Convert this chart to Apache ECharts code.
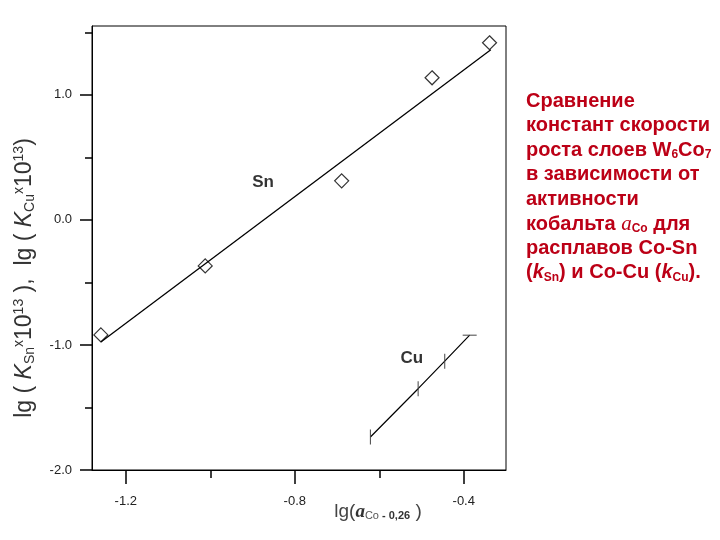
<!DOCTYPE html>
<html>
<head>
<meta charset="utf-8">
<script src="https://cdn.jsdelivr.net/npm/echarts@6/dist/echarts.min.js"></script>
<style>html,body{margin:0;padding:0;background:#fff}#c{width:720px;height:540px}</style>
</head>
<body>
<div id="c"></div>
<script>
// Sn measured points
const snX = [-1.259, -1.012, -0.689, -0.475, -0.339];
const snY = [-0.92, -0.368, 0.312, 1.136, 1.416];
// Sn fitted line endpoints
const snFitX = [-1.259, -0.336];
const snFitY = [-0.976, 1.36];
// Cu points (on fitted line)
const cuX = [-0.621, -0.508, -0.445, -0.386];
const cuY = [-1.736, -1.35, -1.13, -0.922];
// annotation labels
const annX = [-0.875, -0.523];
const annY = [0.304, -1.104];
const annText = ['Sn', 'Cu'];
// ticks
const xMajor = [-1.2, -0.8, -0.4];
const xMinor = [-1.0, -0.6];
const yMajor = [-2, -1, 0, 1];
const yMinor = [-1.5, -0.5, 0.5, 1.5];
const noteLines = [
  'Сравнение',
  'констант скорости',
  'роста слоев W{s|6}Co{s|7}',
  'в зависимости от',
  'активности',
  'кобальта {a|a}{s|Co} для',
  'расплавов Co-Sn',
  '({k|k}{s|Sn}) и Co-Cu ({k|k}{s|Cu}).'
];
const noteY = [103, 127.5, 152, 176.5, 201, 225.5, 250, 274.5];

const chart = echarts.init(document.getElementById('c'), null, {renderer: 'canvas'});
const font = 'Liberation Sans, Arial, sans-serif';
const axCol = '#000';
const xRange = {min: -1.28, max: -0.30};
const yRange = {min: -2, max: 1.55};

const red = '#bc0016';
const graphics = noteLines.map((t, i) => ({
  type: 'text', left: 526, top: noteY[i] - 12,
  style: {
    text: t, fill: red, font: 'bold 20px ' + font,
    rich: {
      s: {fontSize: 12, fontWeight: 'bold', fill: red, fontFamily: font, padding: [10, 0, 0, 0]},
      a: {fontSize: 21, fontStyle: 'italic', fontFamily: 'Liberation Serif, serif', fill: red},
      k: {fontSize: 20, fontStyle: 'italic', fontWeight: 'bold', fontFamily: font, fill: red}
    }
  }
}));
graphics.push({
  type: 'text', x: 25, y: 278, rotation: Math.PI / 2,
  style: {
    text: 'lg ( {i|K}{sb|Sn}{sp|x}10{sp|13} ),  lg ( {i|K}{sb|Cu}{sp|x}10{sp|13})',
    fill: '#333', font: '23px ' + font, align: 'center', verticalAlign: 'middle',
    rich: {
      i: {fontSize: 23, fontStyle: 'italic', fill: '#333', fontFamily: font},
      sb: {fontSize: 14, fill: '#333', fontFamily: font, padding: [11, 0, 0, 0]},
      sp: {fontSize: 14, fill: '#333', fontFamily: font, padding: [0, 0, 11, 0]}
    }
  }
});
graphics.push({
  type: 'text', x: 378, y: 512,
  style: {
    text: 'lg({a|a}{sb|Co}{b| - 0,26} )',
    fill: '#444', font: '19px ' + font, align: 'center', verticalAlign: 'middle',
    rich: {
      a: {fontSize: 19, fontStyle: 'italic', fontWeight: 'bold', fontFamily: 'Liberation Serif, serif', fill: '#333'},
      sb: {fontSize: 11, fill: '#555', fontFamily: font, padding: [8, 0, 0, 0]},
      b: {fontSize: 11, fontWeight: 'bold', fill: '#333', fontFamily: font, padding: [8, 0, 0, 0]}
    }
  }
});

chart.setOption({
  animation: false,
  backgroundColor: '#fff',
  grid: {left: 92, top: 26, right: 214, bottom: 70, show: true, borderColor: '#000', borderWidth: 1, backgroundColor: 'transparent'},
  xAxis: [
    {type: 'value', ...xRange, position: 'bottom',
     axisLine: {show: true, onZero: false, lineStyle: {color: axCol, width: 1}},
     axisTick: {show: true, customValues: xMajor, length: 14, lineStyle: {color: axCol, width: 1.5}},
     axisLabel: {show: true, customValues: xMajor, formatter: v => v.toFixed(1), margin: 25, color: '#222', fontSize: 13, fontFamily: font},
     splitLine: {show: false}},
    {type: 'value', ...xRange, position: 'bottom',
     axisLine: {show: false, onZero: false},
     axisTick: {show: true, customValues: xMinor, length: 8, lineStyle: {color: axCol, width: 1.5}},
     axisLabel: {show: false}, splitLine: {show: false}}
  ],
  yAxis: [
    {type: 'value', ...yRange, position: 'left',
     axisLine: {show: true, onZero: false, lineStyle: {color: axCol, width: 1}},
     axisTick: {show: true, customValues: yMajor, length: 12, lineStyle: {color: axCol, width: 1.5}},
     axisLabel: {show: true, customValues: yMajor, formatter: v => v.toFixed(1), margin: 20, color: '#222', fontSize: 13, fontFamily: font},
     splitLine: {show: false}},
    {type: 'value', ...yRange, position: 'left',
     axisLine: {show: false, onZero: false},
     axisTick: {show: true, customValues: yMinor, length: 7, lineStyle: {color: axCol, width: 1.5}},
     axisLabel: {show: false}, splitLine: {show: false}}
  ],
  series: [
    {type: 'line', xAxisIndex: 0, yAxisIndex: 0, data: snFitX.map((x, i) => [x, snFitY[i]]),
     symbol: 'none', lineStyle: {color: '#000', width: 1.3}, z: 2},
    {type: 'scatter', xAxisIndex: 0, yAxisIndex: 0, data: snX.map((x, i) => [x, snY[i]]),
     symbol: 'diamond', symbolSize: 14,
     itemStyle: {color: 'rgba(255,255,255,0)', borderColor: '#000', borderWidth: 1.2}, z: 3},
    {type: 'line', xAxisIndex: 0, yAxisIndex: 0,
     data: cuX.map((x, i) => ({value: [x, cuY[i]], symbol: 'rect', symbolSize: i === cuX.length - 1 ? [14, 1] : [1, 15]})),
     showAllSymbol: true,
     lineStyle: {color: '#000', width: 1.2}, itemStyle: {color: '#444'}, z: 2},
    {type: 'scatter', xAxisIndex: 0, yAxisIndex: 0, data: annX.map((x, i) => [x, annY[i], annText[i]]),
     symbolSize: 0, silent: true,
     label: {show: true, position: 'inside', formatter: p => p.value[2], color: '#000', fontSize: 17, fontWeight: 'bold', fontFamily: font}}
  ],
  graphic: graphics
});
</script>
</body>
</html>
